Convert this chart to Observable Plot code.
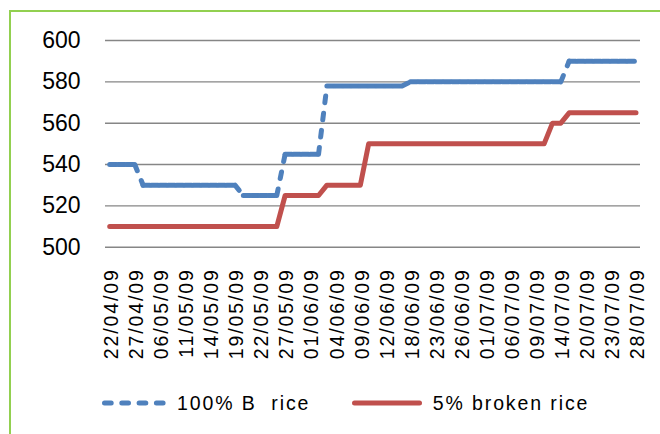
<!DOCTYPE html>
<html>
<head>
<meta charset="utf-8">
<script src="https://cdn.jsdelivr.net/npm/d3@7"></script>
<script src="https://cdn.jsdelivr.net/npm/@observablehq/plot@0.6"></script>
<style>
  html, body { margin: 0; padding: 0; background: #fff; }
  body { width: 660px; height: 434px; position: relative; overflow: hidden; font-family: "Liberation Sans", Arial, sans-serif; color: #000; }
  #frame { position: absolute; left: 9px; top: 10px; width: 720px; height: 500px; border-left: 2px solid #92D050; border-top: 2px solid #92D050; }
  #chart { position: absolute; left: 0; top: 0; }
  #chart svg [aria-label="x-axis tick label"] text { letter-spacing: 1.9px; }
  #legend { position: absolute; left: 0; top: 388px; width: 660px; height: 30px; }
  .item { position: absolute; top: 0; height: 30px; display: flex; align-items: center; font-size: 19.5px; letter-spacing: 1.9px; white-space: pre; }
</style>
</head>
<body>
<div id="frame"></div>
<div id="chart"></div>
<div id="legend"></div>
<script>
const dates = ["22/04/09","23/04/09","24/04/09","27/04/09","28/04/09","29/04/09","06/05/09","07/05/09","08/05/09","11/05/09","12/05/09","13/05/09","14/05/09","15/05/09","18/05/09","19/05/09","20/05/09","21/05/09","22/05/09","25/05/09","26/05/09","27/05/09","28/05/09","29/05/09","01/06/09","02/06/09","03/06/09","04/06/09","05/06/09","08/06/09","09/06/09","10/06/09","11/06/09","12/06/09","16/06/09","17/06/09","18/06/09","19/06/09","22/06/09","23/06/09","24/06/09","25/06/09","26/06/09","29/06/09","30/06/09","01/07/09","02/07/09","03/07/09","06/07/09","07/07/09","08/07/09","09/07/09","10/07/09","13/07/09","14/07/09","16/07/09","17/07/09","20/07/09","21/07/09","22/07/09","23/07/09","24/07/09","27/07/09","28/07/09"];

const tickLabels = ["22/04/09","27/04/09","06/05/09","11/05/09","14/05/09","19/05/09","22/05/09","27/05/09","01/06/09","04/06/09","09/06/09","12/06/09","18/06/09","23/06/09","26/06/09","01/07/09","06/07/09","09/07/09","14/07/09","20/07/09","23/07/09","28/07/09"];

const yTicks = [500, 520, 540, 560, 580, 600];

const seriesNames = ["100% B  rice", "5% broken rice"];

const rice100B = [540,540,540,540,530,530,530,530,530,530,530,530,530,530,530,530,525,525,525,525,525,545,545,545,545,545,578,578,578,578,578,578,578,578,578,578,580,580,580,580,580,580,580,580,580,580,580,580,580,580,580,580,580,580,580,590,590,590,590,590,590,590,590,590];

const rice5Broken = [510,510,510,510,510,510,510,510,510,510,510,510,510,510,510,510,510,510,510,510,510,525,525,525,525,525,530,530,530,530,530,550,550,550,550,550,550,550,550,550,550,550,550,550,550,550,550,550,550,550,550,550,550,560,560,565,565,565,565,565,565,565,565,565];

const blue = "#4F81BD", red = "#C0504D";

const redData = dates.map((d, i) => ({date: d, value: rice5Broken[i]}));
const blueSegs = dates.slice(0, -1).map((d, i) => ({x1: d, x2: dates[i + 1], y1: rice100B[i], y2: rice100B[i + 1]}));

const chart = Plot.plot({
  width: 660,
  height: 385,
  marginLeft: 105,
  marginRight: 20,
  marginTop: 40,
  marginBottom: 138.3,
  style: {fontFamily: "'Liberation Sans', Arial, sans-serif", color: "#000", background: "transparent", overflow: "visible"},
  x: {type: "point", domain: dates, range: [109.2, 635.5], padding: 0, round: false},
  y: {domain: [500, 600]},
  marks: [
    Plot.ruleY(yTicks, {stroke: "#868686", strokeWidth: 1.4, strokeOpacity: 1}),
    Plot.axisY({ticks: yTicks, tickSize: 0, tickPadding: 25, fontSize: 23, label: null, fill: "#000"}),
    Plot.axisX({ticks: tickLabels, tickRotate: -90, tickSize: 0, tickPadding: 21, fontSize: 19.5, label: null, fill: "#000", dx: 2}),
    Plot.line(redData, {x: "date", y: "value", stroke: red, strokeWidth: 5, strokeLinecap: "round", strokeLinejoin: "round"}),
    Plot.link(blueSegs, {x1: "x1", x2: "x2", y1: "y1", y2: "y2", stroke: blue, strokeWidth: 5, strokeLinecap: "round", strokeDasharray: "6.7,10.6", curve: "linear"})
  ]
});
document.getElementById("chart").appendChild(chart);

// legend
const legend = document.getElementById("legend");
function addItem(left, swatchW, dash, color, label) {
  const div = document.createElement("div");
  div.className = "item";
  div.style.left = left + "px";
  const ns = "http://www.w3.org/2000/svg";
  const s = document.createElementNS(ns, "svg");
  s.setAttribute("width", swatchW);
  s.setAttribute("height", 10);
  s.style.marginRight = "11px";
  const l = document.createElementNS(ns, "line");
  l.setAttribute("x1", 2.5); l.setAttribute("x2", swatchW - 2.5);
  l.setAttribute("y1", 5); l.setAttribute("y2", 5);
  l.setAttribute("stroke", color); l.setAttribute("stroke-width", 5);
  l.setAttribute("stroke-linecap", "round");
  if (dash) l.setAttribute("stroke-dasharray", dash);
  s.appendChild(l);
  div.appendChild(s);
  const t = document.createElement("span");
  t.textContent = label;
  div.appendChild(t);
  legend.appendChild(div);
}
addItem(101.7, 64.3, "6.7,10.6", blue, seriesNames[0]);
addItem(351.7, 70, null, red, seriesNames[1]);
</script>
</body>
</html>
